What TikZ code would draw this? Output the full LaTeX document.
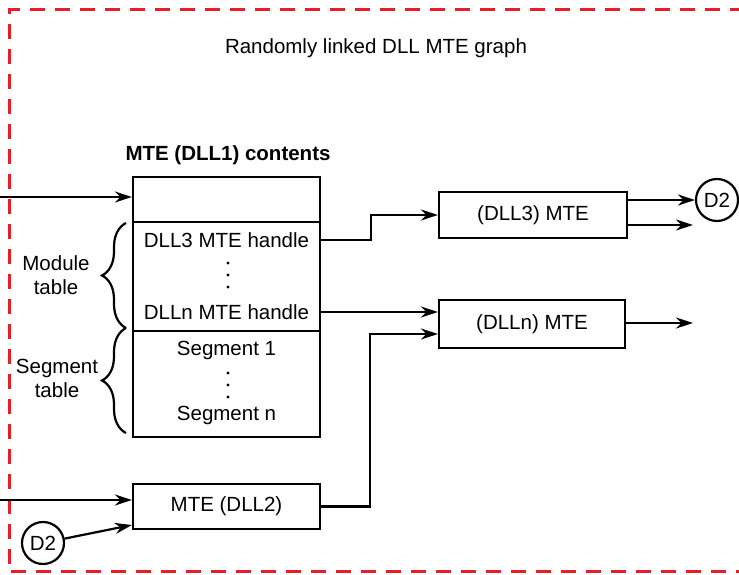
\documentclass[tikz,border=0pt]{standalone}
\usepackage{fontspec}
\setmainfont{Liberation Sans}
\usepackage{xcolor}
\usetikzlibrary{arrows.meta,calc,positioning,decorations.pathreplacing}
\definecolor{framered}{RGB}{232,30,36}

\begin{document}
\begin{tikzpicture}[x=1pt,y=1pt,line width=2.2pt,
  font=\fontsize{20.5}{24}\selectfont,
  >={Stealth[length=17pt,width=11pt]},
  box/.style={draw,rectangle,inner sep=0pt,minimum width=187pt},
  sig/.style={draw,circle,inner sep=0pt,minimum size=42pt},
  brc/.style={decorate,decoration={brace,amplitude=24pt}}]
\useasboundingbox (0,0) rectangle (739,575);
% dashed frame
\draw[framered,line width=3pt,dash pattern=on 15pt off 10pt] (745,565) -- (9,565) -- (9,3) -- (745,3);
\node (title) at (376,527) {Randomly linked DLL MTE graph};
\node[font=\fontsize{20.5}{24}\selectfont\bfseries] (head) at (228,420) {MTE (DLL1) contents};

% MTE (DLL1) table
\node[box,minimum height=45pt] (mtetop) at (226.5,375.5) {};
\node[box,minimum height=109pt] (modtab) at (226.5,298.5) {};
\node[box,minimum height=106pt] (segtab) at (226.5,191) {};
\node (h3) at (226.5,335) {DLL3 MTE handle};
\node (hn) at (226.5,263) {DLLn MTE handle};
\node (s1) at (226.5,225) {Segment 1};
\node (sn) at (226.5,160) {Segment n};
\foreach \y in {312,300,288,202,190,178} \fill (228,\y) circle (1.6pt);
\draw[brc] (126,247) -- (126,352);
\draw[brc] (126,142) -- (126,247);
\node[align=center] (modlbl) at (56,300) {Module\\table};
\node[align=center] (seglbl) at (57,197) {Segment\\table};

% other MTEs
\node[box,minimum width=188pt,minimum height=46pt] (dll3) at (533,360) {(DLL3) MTE};
\node[box,minimum width=186pt,minimum height=48pt] (dlln) at (532,251) {(DLLn) MTE};
\node[box,minimum height=45pt] (dll2) at (226.5,68.5) {MTE (DLL2)};
\node[sig] (d2a) at (43,32) {D2};
\node[sig] (d2b) at (717,375) {D2};

\coordinate (in1) at (0,378); \coordinate (in2) at (0,75);
\coordinate (out3) at (693,350); \coordinate (outn) at (693,252);

\draw[->] (in1) -- (mtetop.west |- in1);
\draw[->] (modtab.east |- h3) -- ++(50,0) |- (dll3.west);
\draw[->] (modtab.east |- hn) -- (dlln.west |- hn);
\draw[->] (in2) -- (dll2.west |- in2);
\draw[->] (d2a) -- (dll2.west |- 0,50);
\draw[->] (dll2.east) -| (370,241) -- (dlln.west |- 370,241);
\draw[->] (dll3.east |- d2b) -- (d2b);
\draw[->] (dll3.east |- out3) -- (out3);
\draw[->] (dlln.east |- outn) -- (outn);
\end{tikzpicture}
\end{document}
